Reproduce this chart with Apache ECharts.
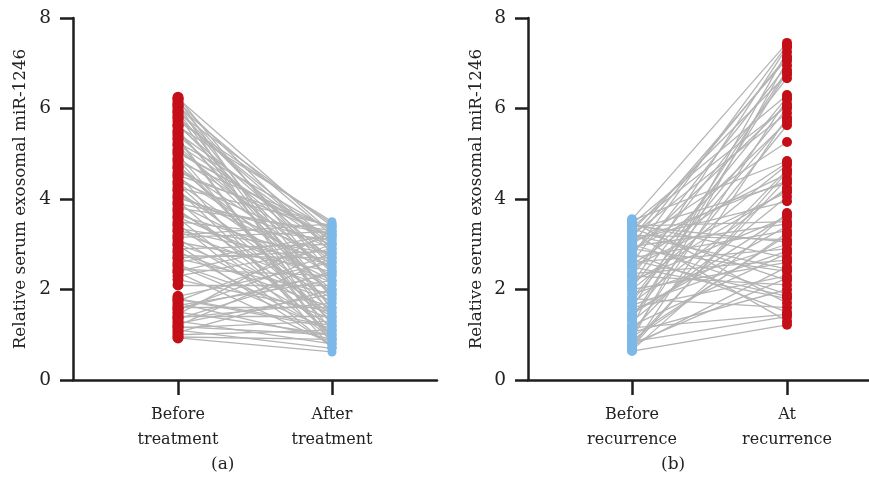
<!DOCTYPE html>
<html>
<head>
<meta charset="utf-8">
<script src="https://cdn.jsdelivr.net/npm/echarts@6/dist/echarts.min.js"></script>
<style>html,body{margin:0;padding:0;background:#fff}#c{width:869px;height:493px}</style>
</head>
<body>
<div id="c"></div>
<script>
// Panel (a): paired values, before vs after treatment
const categoriesA = ['Before\ntreatment', 'After\ntreatment'];
const beforeA = [6.25, 6.2, 6.15, 6.1, 6.05, 6.0, 5.95, 5.9, 5.85, 5.8, 5.72, 5.65, 5.6, 5.52, 5.45, 5.4, 5.32, 5.25, 5.18, 5.1,
  5.05, 4.98, 4.9, 4.82, 4.75, 4.68, 4.6, 4.55, 4.48, 4.4, 4.32, 4.25, 4.18, 4.1, 4.02, 3.95, 3.88, 3.8, 3.72, 3.65,
  3.58, 3.5, 3.42, 3.35, 3.28, 3.2, 3.12, 3.05, 2.98, 2.9, 2.82, 2.75, 2.68, 2.6, 2.52, 2.45, 2.38, 2.3, 2.22, 2.1,
  1.85, 1.8, 1.75, 1.7, 1.65, 1.6, 1.55, 1.5, 1.45, 1.4, 1.35, 1.3, 1.25, 1.2, 1.15, 1.1, 1.05, 1.0, 0.95, 0.93,
  6.22, 6.08, 5.92, 5.78, 5.62, 5.48, 5.35, 5.2, 5.02, 4.86, 4.7, 4.52, 4.36, 4.2, 4.05, 3.9, 3.76, 3.6, 3.45, 3.3,
  3.15, 3.0, 2.85, 2.7, 2.55, 2.4, 1.78, 1.58, 1.38, 1.18];
const afterA = [2.1, 1.4, 2.8, 0.9, 3.2, 1.8, 2.5, 3.4, 1.2, 2.9, 3.45, 2.2, 3.5, 1.6, 3.0, 2.6, 0.8, 3.3, 1.9, 2.4,
  3.1, 1.1, 2.7, 3.35, 1.5, 2.0, 3.2, 0.7, 2.3, 2.9, 1.3, 3.4, 1.7, 2.5, 3.0, 1.0, 2.2, 3.3, 1.8, 2.6,
  0.9, 3.1, 1.4, 2.8, 2.0, 3.45, 1.2, 2.4, 0.75, 3.0, 1.6, 2.7, 1.9, 3.2, 1.1, 2.3, 0.8, 2.9, 1.5, 2.1,
  2.6, 1.2, 3.0, 0.9, 2.2, 1.6, 2.8, 1.0, 3.3, 1.4, 2.4, 0.8, 1.9, 2.7, 1.3, 0.7, 2.0, 1.1, 0.9, 0.62,
  3.25, 2.35, 1.55, 3.05, 2.65, 1.85, 0.85, 2.95, 3.15, 1.25, 2.45, 3.38, 1.95, 0.95, 2.75, 3.22, 1.45, 2.15, 0.72, 2.55,
  3.28, 1.75, 1.05, 2.85, 1.35, 3.15, 1.15, 2.35, 1.7, 1.0];

// Panel (b): paired values, before vs at recurrence
const categoriesB = ['Before\nrecurrence', 'At\nrecurrence'];
const atB = [7.45, 7.35, 7.25, 7.15, 7.05, 6.95, 6.85, 6.75, 6.67,
  6.3, 6.2, 6.1, 6.0, 5.9, 5.8, 5.7, 5.63, 5.26,
  4.84, 4.75, 4.65, 4.55, 4.45, 4.35, 4.25, 4.15, 4.05, 3.95,
  3.69, 3.6, 3.5, 3.4, 3.3, 3.2, 3.1, 3.0, 2.9, 2.8, 2.7, 2.6, 2.5, 2.4, 2.3, 2.2, 2.1, 2.0, 1.9, 1.8, 1.7, 1.6, 1.5, 1.4, 1.3, 1.22,
  7.4, 7.1, 6.8, 6.25, 6.05, 5.75, 4.8, 4.6, 4.4, 4.2, 3.65, 3.45, 3.25, 3.05, 2.85, 2.65, 2.45, 2.25, 1.85, 1.45];
const beforeB = [3.55, 2.1, 1.2, 3.0, 0.9, 2.6, 1.6, 3.3, 2.3,
  3.45, 1.0, 2.8, 1.8, 3.2, 0.7, 2.4, 1.4, 3.0,
  3.52, 2.0, 1.1, 2.9, 0.8, 3.3, 1.7, 2.5, 1.3, 3.1,
  0.66, 2.2, 3.4, 1.5, 2.7, 0.95, 3.2, 1.9, 2.6, 1.2, 3.45, 2.0, 0.75, 2.9, 1.6, 3.35, 2.3, 1.05, 3.0, 2.5, 3.5, 1.8, 2.8, 0.85, 3.25, 0.64,
  2.75, 3.15, 1.35, 2.05, 3.38, 1.75, 2.55, 0.72, 3.05, 2.15, 1.45, 2.95, 0.88, 3.4, 1.65, 2.35, 3.2, 0.8, 2.65, 1.15];

const yTicks = [0, 2, 4, 6, 8];

const RED = '#c40f18', BLUE = '#7cb9e8', GREY = '#b4b4b4', AX = '#1e1e1e';
const FONT = 'DejaVu Serif';

function pairs(xs, ys, x1, x2) {
  return xs.map((v, i) => ({ coords: [[x1, v], [x2, ys[i]]] }));
}

function xAxisCfg(grid, min, max, cats) {
  return {
    type: 'value', gridIndex: grid, min: min, max: max,
    axisLine: { show: true, onZero: false, lineStyle: { color: AX, width: 2.5 } },
    axisTick: { show: true, customValues: [1, 2], length: 15, lineStyle: { color: AX, width: 2.5 } },
    axisLabel: { show: true, customValues: [1, 2], formatter: v => cats[Math.round(v) - 1],
      fontFamily: FONT, fontSize: 16, color: '#222', lineHeight: 25, margin: 22 },
    splitLine: { show: false }
  };
}
function yAxisCfg(grid, gap) {
  return {
    type: 'value', gridIndex: grid, min: yTicks[0], max: yTicks[yTicks.length - 1], interval: 2,
    name: 'Relative serum exosomal miR-1246', nameLocation: 'middle', nameGap: gap, nameRotate: 90,
    nameTextStyle: { fontFamily: FONT, fontSize: 16.8, color: '#222' },
    axisLine: { show: true, lineStyle: { color: AX, width: 2.5 } },
    axisTick: { show: true, length: 13, lineStyle: { color: AX, width: 2.5 } },
    axisLabel: { fontFamily: FONT, fontSize: 18.5, color: '#222', margin: 22 },
    splitLine: { show: false }
  };
}

const chart = echarts.init(document.getElementById('c'), null, { renderer: 'canvas' });
chart.setOption({
  animation: false,
  backgroundColor: '#fff',
  grid: [
    { left: 73, right: 432, top: 18, bottom: 113 },
    { left: 528, right: 0, top: 18, bottom: 113 }
  ],
  xAxis: [xAxisCfg(0, 0.318, 2.682, categoriesA), xAxisCfg(1, 0.329, 2.529, categoriesB)],
  yAxis: [yAxisCfg(0, 44), yAxisCfg(1, 43)],
  graphic: [
    { type: 'text', left: 211, top: 456, style: { text: '(a)', font: '17px "DejaVu Serif"', fill: '#222' } },
    { type: 'text', left: 661, top: 456, style: { text: '(b)', font: '17px "DejaVu Serif"', fill: '#222' } }
  ],
  series: [
    { type: 'lines', coordinateSystem: 'cartesian2d', xAxisIndex: 0, yAxisIndex: 0, polyline: false,
      lineStyle: { color: GREY, width: 1.3, opacity: 1 }, data: pairs(beforeA, afterA, 1, 2), z: 1 },
    { type: 'scatter', xAxisIndex: 0, yAxisIndex: 0, symbolSize: 11, itemStyle: { color: RED, opacity: 1 },
      data: beforeA.map(v => [1, v]), z: 3 },
    { type: 'scatter', xAxisIndex: 0, yAxisIndex: 0, symbolSize: 9, itemStyle: { color: BLUE, opacity: 1 },
      data: afterA.map(v => [2, v]), z: 3 },
    { type: 'lines', coordinateSystem: 'cartesian2d', xAxisIndex: 1, yAxisIndex: 1, polyline: false,
      lineStyle: { color: GREY, width: 1.3, opacity: 1 }, data: pairs(beforeB, atB, 1, 2), z: 1 },
    { type: 'scatter', xAxisIndex: 1, yAxisIndex: 1, symbolSize: 10, itemStyle: { color: BLUE, opacity: 1 },
      data: beforeB.map(v => [1, v]), z: 3 },
    { type: 'scatter', xAxisIndex: 1, yAxisIndex: 1, symbolSize: 10, itemStyle: { color: RED, opacity: 1 },
      data: atB.map(v => [2, v]), z: 3 }
  ]
});
</script>
</body>
</html>
